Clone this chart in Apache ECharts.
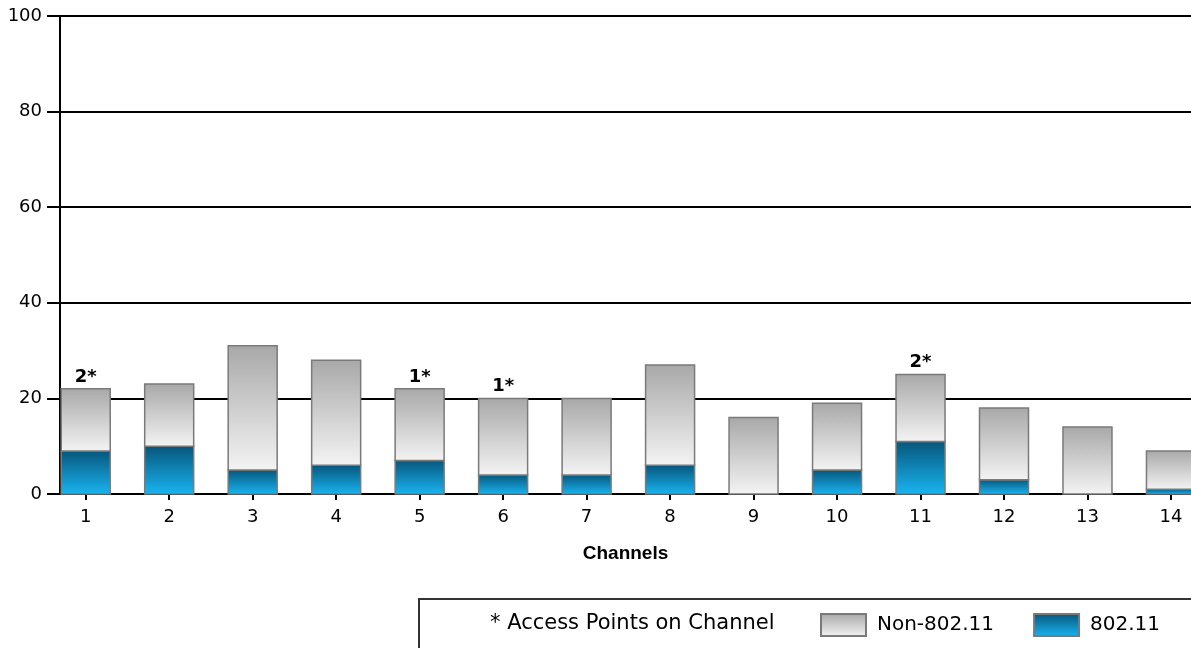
<!DOCTYPE html>
<html>
<head>
<meta charset="utf-8">
<script src="https://cdn.jsdelivr.net/npm/echarts@6/dist/echarts.min.js"></script>
<style>
  html, body { margin: 0; padding: 0; background: #fff; }
  #chart { width: 1191px; height: 648px; }
</style>
</head>
<body>
<div id="chart"></div>
<script>
// channel data
const channels = [1, 2, 3, 4, 5, 6, 7, 8, 9, 10, 11, 12, 13, 14]
const wifi = [9, 10, 5, 6, 7, 4, 4, 6, 0, 5, 11, 3, 0, 1]
const nonWifi = [13, 13, 26, 22, 15, 16, 16, 21, 16, 14, 14, 15, 14, 8]
const apCount = [2, 0, 0, 0, 1, 1, 0, 0, 0, 0, 2, 0, 0, 0]
const yTicks = [0, 20, 40, 60, 80, 100]

const font = 'DejaVu Sans'
const barW = 49

let myChart = echarts.init(document.getElementById('chart'))

let blue = new echarts.graphic.LinearGradient(0, 0, 0, 1, [
  { offset: 0, color: '#06557a' },
  { offset: 1, color: '#19b5f2' }
])
let grey = new echarts.graphic.LinearGradient(0, 0, 0, 1, [
  { offset: 0, color: '#a8a8a8' },
  { offset: 1, color: '#f4f4f4' }
])

// stacked bar drawn from [channel, base, top]
function stackBar(fill, withLabel) {
  return function (params, api) {
    let x = api.value(0)
    let lo = api.value(1)
    let hi = api.value(2)
    if (hi <= lo) return null
    let p0 = api.coord([x, lo])
    let p1 = api.coord([x, hi])
    let children = [
      {
        type: 'rect',
        shape: { x: p0[0] - barW / 2, y: p1[1], width: barW, height: p0[1] - p1[1] },
        style: { fill: fill, stroke: '#7a7a7a', lineWidth: 1.5 }
      }
    ]
    let n = apCount[params.dataIndex]
    if (withLabel && n > 0) {
      children.push({
        type: 'text',
        style: {
          text: n + '*',
          x: p1[0],
          y: p1[1] - 3,
          align: 'center',
          verticalAlign: 'bottom',
          font: 'bold 18px "DejaVu Sans"',
          fill: '#000'
        }
      })
    }
    return { type: 'group', children: children }
  }
}

let option = {
  animation: false,
  grid: { left: 60, right: 0, top: 16, bottom: 154 },
  xAxis: {
    type: 'value',
    min: 0.692,
    max: 14.24,
    name: 'Channels',
    nameLocation: 'middle',
    nameGap: 50,
    nameTextStyle: { fontFamily: 'Liberation Sans', fontWeight: 'bold', fontSize: 19, color: '#000' },
    axisLine: { show: true, lineStyle: { color: '#000', width: 2 } },
    axisTick: { show: true, length: 6, customValues: channels, lineStyle: { color: '#000', width: 2 } },
    axisLabel: { customValues: channels, margin: 14, fontFamily: font, fontSize: 18, color: '#000' },
    splitLine: { show: false }
  },
  yAxis: {
    type: 'value',
    min: 0,
    max: 100,
    interval: 20,
    axisLine: { show: true, lineStyle: { color: '#000', width: 2 } },
    axisTick: { show: true, length: 13, lineStyle: { color: '#000', width: 2 } },
    axisLabel: { margin: 18, fontFamily: font, fontSize: 18, color: '#000' },
    splitLine: { show: true, lineStyle: { color: '#000', width: 2 } }
  },
  legend: {
    left: 820,
    top: 613,
    padding: 0,
    itemWidth: 45,
    itemHeight: 22,
    itemGap: 39,
    icon: 'rect',
    data: ['Non-802.11', '802.11'],
    textStyle: { fontFamily: font, fontSize: 20, color: '#000', padding: [0, 0, 0, 6] }
  },
  graphic: [
    { type: 'line', shape: { x1: 418, y1: 599, x2: 1191, y2: 599 }, style: { stroke: '#333', lineWidth: 2 } },
    { type: 'line', shape: { x1: 419, y1: 599, x2: 419, y2: 648 }, style: { stroke: '#333', lineWidth: 2 } },
    {
      type: 'text', left: 490, top: 613,
      style: { text: '* Access Points on Channel', fontFamily: font, fontSize: 21, fill: '#000' }
    }
  ],
  series: [
    {
      name: '802.11',
      type: 'custom',
      renderItem: stackBar(blue, false),
      encode: { x: 0, y: [1, 2] },
      itemStyle: { color: blue, borderColor: '#7a7a7a', borderWidth: 1.5 },
      data: channels.map((c, i) => [c, 0, wifi[i]])
    },
    {
      name: 'Non-802.11',
      type: 'custom',
      renderItem: stackBar(grey, true),
      encode: { x: 0, y: [1, 2] },
      itemStyle: { color: grey, borderColor: '#7a7a7a', borderWidth: 1.5 },
      data: channels.map((c, i) => [c, wifi[i], wifi[i] + nonWifi[i]])
    }
  ]
}
myChart.setOption(option)
</script>
</body>
</html>
